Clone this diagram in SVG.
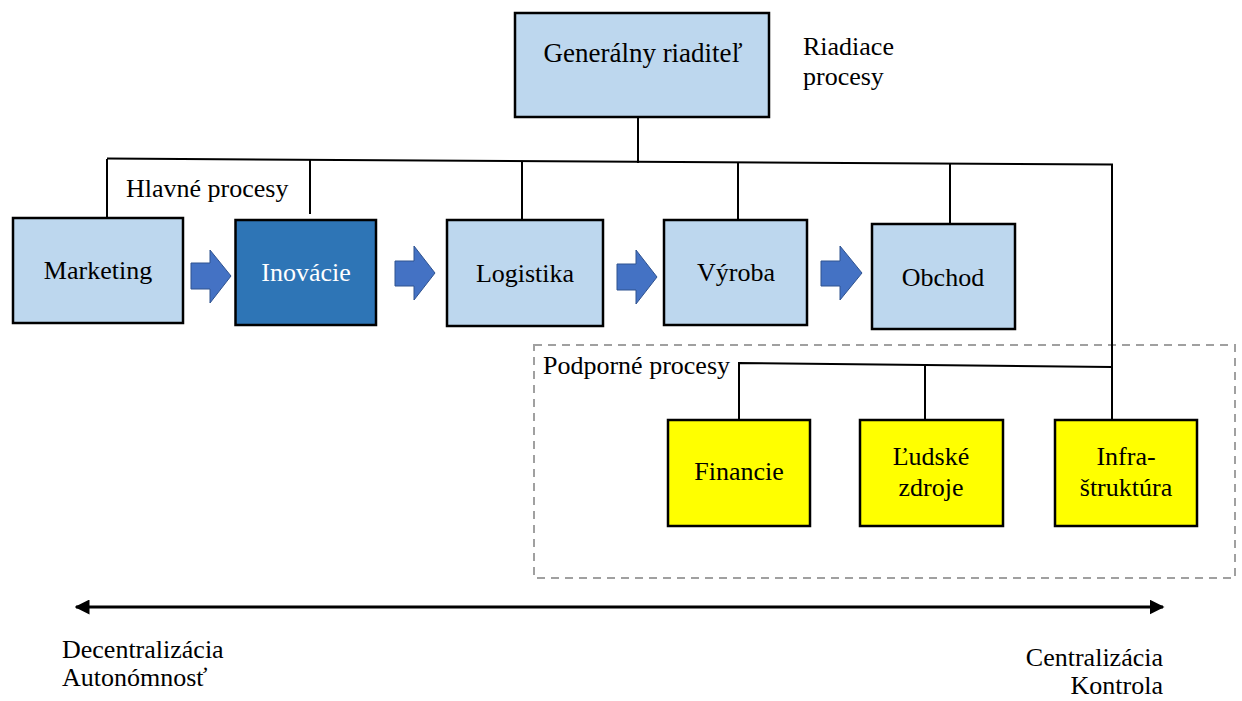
<svg xmlns="http://www.w3.org/2000/svg" width="1242" height="701" viewBox="0 0 1242 701">
<style>
text{font-family:"Liberation Serif","Times New Roman",serif;font-size:26px;fill:#000}
.c{text-anchor:middle}
.box{stroke:#000;stroke-width:2.5}
.lb{fill:#BDD7EE}
.yb{fill:#FFFF00}
.ln{stroke:#000;stroke-width:2;fill:none}
.ba{fill:#4472C4;stroke:#2F528F;stroke-width:1}
</style>
<defs>
<marker id="ah" viewBox="0 0 10 10" refX="9" refY="5" markerWidth="5" markerHeight="5" orient="auto-start-reverse" markerUnits="strokeWidth">
<path d="M0,0 L10,5 L0,10 z" fill="#000"/>
</marker>
</defs>
<rect width="1242" height="701" fill="#fff"/>
<rect x="534" y="345" width="701" height="233" fill="none" stroke="#A0A0A0" stroke-width="2" stroke-dasharray="8,6"/>
<g id="connectors">
<line class="ln" x1="638" y1="117" x2="638" y2="163"/>
<polyline class="ln" points="107,158.5 1112,164.5 1112,420"/>
<line class="ln" x1="107" y1="159" x2="107" y2="218"/>
<line class="ln" x1="310" y1="160" x2="310" y2="214"/>
<line class="ln" x1="522" y1="161" x2="522" y2="220"/>
<line class="ln" x1="738" y1="162" x2="738" y2="220"/>
<line class="ln" x1="950" y1="163" x2="950" y2="224"/>
<polyline class="ln" points="739,420 739,363 1112,367"/>
<line class="ln" x1="925" y1="365.5" x2="925" y2="420"/>
<line stroke="#000" stroke-width="3" x1="76" y1="607" x2="1163" y2="607" marker-start="url(#ah)" marker-end="url(#ah)"/>
<path class="ba" d="M191,263 H210 V250 L231,276 L210,303 V289 H191 z"/>
<path class="ba" d="M395,261 H414 V246 L435,273 L414,300 V286 H395 z"/>
<path class="ba" d="M617,264 H636 V250 L657,277 L636,304 V290 H617 z"/>
<path class="ba" d="M821,261 H840 V246 L862,273 L840,300 V286 H821 z"/>
</g>
<g id="gr">
<rect class="box lb" x="515" y="13" width="254" height="104"/>
<text class="c" x="643" y="62" style="font-size:27px">Generálny riaditeľ</text>
</g>
<g id="riadiace">
<text x="803" y="55">Riadiace</text>
<text x="803" y="85">procesy</text>
</g>
<text x="126" y="197">Hlavné procesy</text>
<g id="marketing">
<rect class="box lb" x="13" y="218" width="170" height="105"/>
<text class="c" x="98" y="279">Marketing</text>
</g>
<g id="inovacie">
<rect class="box" fill="#2E75B6" x="235.5" y="220" width="140.5" height="105"/>
<text class="c" x="306" y="281" style="fill:#fff">Inovácie</text>
</g>
<g id="logistika">
<rect class="box lb" x="447" y="220" width="156" height="106"/>
<text class="c" x="525" y="282">Logistika</text>
</g>
<g id="vyroba">
<rect class="box lb" x="664" y="220" width="143" height="105"/>
<text class="c" x="736" y="281">Výroba</text>
</g>
<g id="obchod">
<rect class="box lb" x="872" y="224" width="143" height="105"/>
<text class="c" x="943" y="286">Obchod</text>
</g>
<text x="543" y="374">Podporné procesy</text>
<g id="financie">
<rect class="box yb" x="668" y="420" width="142" height="106"/>
<text class="c" x="739" y="480">Financie</text>
</g>
<g id="ludske">
<rect class="box yb" x="860" y="420" width="143" height="106"/>
<text class="c" x="931" y="465">Ľudské</text>
<text class="c" x="931" y="496">zdroje</text>
</g>
<g id="infra">
<rect class="box yb" x="1055" y="420" width="142" height="106"/>
<text class="c" x="1126" y="465">Infra-</text>
<text class="c" x="1126" y="496">štruktúra</text>
</g>
<g id="axis-labels">
<text x="62" y="658">Decentralizácia</text>
<text x="62" y="686">Autonómnosť</text>
<text x="1163" y="666" text-anchor="end">Centralizácia</text>
<text x="1163" y="694" text-anchor="end">Kontrola</text>
</g>
</svg>
